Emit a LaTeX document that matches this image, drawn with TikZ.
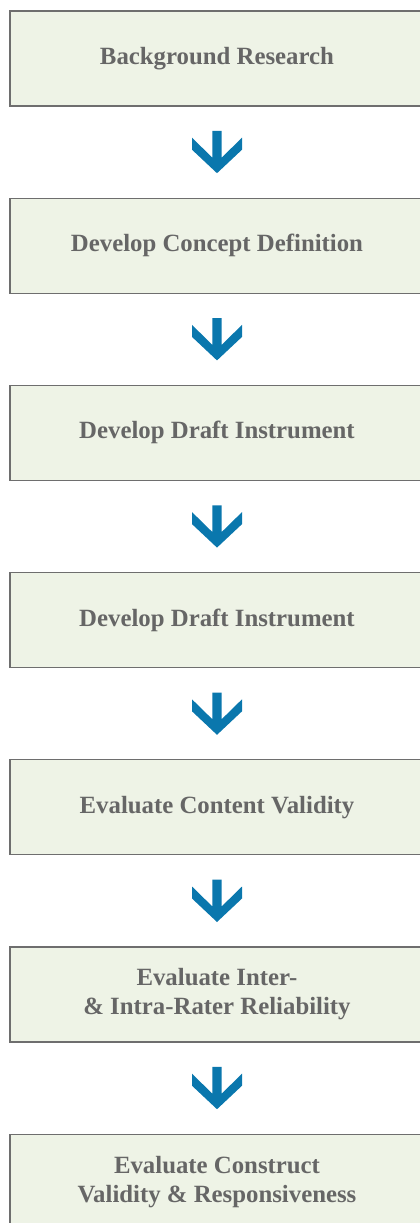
\documentclass[tikz,border=0pt]{standalone}
\usepackage{fontspec}
\setmainfont{Liberation Serif}
\usetikzlibrary{positioning}
\definecolor{stagefill}{HTML}{EEF3E6}
\definecolor{stageline}{HTML}{6E6E6E}
\definecolor{stagetext}{HTML}{666666}
\definecolor{arrowblue}{HTML}{0A77AD}

\begin{document}
\begin{tikzpicture}[x=1pt, y=1pt, node distance=92.2pt,
  stage/.style = {shape=rectangle, draw=stageline, line width=1.3pt,
    fill=stagefill, text=stagetext, align=center, outer sep=0pt,
    minimum width=414pt, minimum height=95pt, inner sep=0pt,
    font=\bfseries\fontsize{24.8}{29}\selectfont},
  flow/.style = {fill=arrowblue, draw=none,
    to path={([yshift=25pt]\tikztotarget.north)
      -- ++(25,23.5) -- ++(0,12) -- ++(-20.3,-19.9) -- ++(0,26.7)
      -- ++(-9.4,0) -- ++(0,-26.7) -- ++(-20.3,19.9) -- ++(0,-12) -- cycle}}]
  \useasboundingbox (0,0) rectangle (420,-1223);

  \node[stage] (research) at (217,-58.5) {Background Research};
  \node[stage, below=of research] (concept) {Develop Concept Definition};
  \node[stage, below=of concept] (draft) {Develop Draft Instrument};
  \node[stage, below=of draft] (redraft) {Develop Draft Instrument};
  \node[stage, below=of redraft] (content) {Evaluate Content Validity};
  \node[stage, below=of content] (reliability) {Evaluate Inter-\\ \& Intra-Rater Reliability};
  \node[stage, below=of reliability] (construct) {Evaluate Construct\\ Validity \& Responsiveness};

  \path[flow] (research) to (concept);
  \path[flow] (concept) to (draft);
  \path[flow] (draft) to (redraft);
  \path[flow] (redraft) to (content);
  \path[flow] (content) to (reliability);
  \path[flow] (reliability) to (construct);
\end{tikzpicture}
\end{document}
